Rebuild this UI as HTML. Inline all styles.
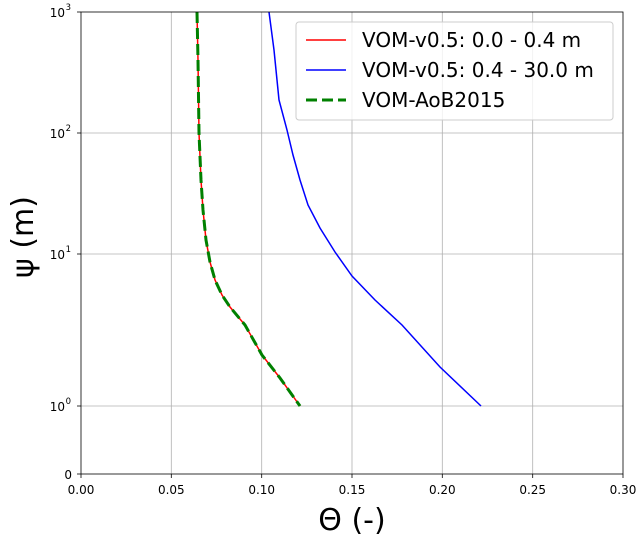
<!DOCTYPE html>
<html><head><style>body{margin:0;background:#fff}</style></head><body>
<svg width="642" height="540" xmlns="http://www.w3.org/2000/svg" font-family="DejaVu Sans, Liberation Sans, sans-serif">
<g stroke="#b0b0b0" stroke-width="0.8">
<line x1="171.3" y1="12" x2="171.3" y2="474"/><line x1="261.7" y1="12" x2="261.7" y2="474"/><line x1="352" y1="12" x2="352" y2="474"/><line x1="442.3" y1="12" x2="442.3" y2="474"/><line x1="532.7" y1="12" x2="532.7" y2="474"/>
<line x1="81" y1="133" x2="623" y2="133"/><line x1="81" y1="254" x2="623" y2="254"/><line x1="81" y1="406" x2="623" y2="406"/>
</g>
<polyline fill="none" stroke="#0000ff" stroke-width="1.5" points="269,12 274,50 279,100 287,130 293,155 300,180 308,205 320,228 335,252 352,276 375,300 402,325 440,367 481,406"/>
<polyline fill="none" stroke="#ff0000" stroke-width="1.5" points="197,12 198,60 199,133 201,180 203,210 206,240 210,262 215,280 222,295 230,307 245,325 262,355 280,378 300,406"/>
<polyline fill="none" stroke="#008000" stroke-width="3" stroke-dasharray="11,5" points="197,12 198,60 199,133 201,180 203,210 206,240 210,262 215,280 222,295 230,307 245,325 262,355 280,378 300,406"/>
<rect x="81" y="12" width="542" height="462" fill="none" stroke="#000" stroke-width="0.8"/>
<g stroke="#000" stroke-width="0.8">
<line x1="81" y1="474" x2="81" y2="478"/><line x1="171.3" y1="474" x2="171.3" y2="478"/><line x1="261.7" y1="474" x2="261.7" y2="478"/><line x1="352" y1="474" x2="352" y2="478"/><line x1="442.3" y1="474" x2="442.3" y2="478"/><line x1="532.7" y1="474" x2="532.7" y2="478"/><line x1="623" y1="474" x2="623" y2="478"/>
<line x1="77" y1="12" x2="81" y2="12"/><line x1="77" y1="133" x2="81" y2="133"/><line x1="77" y1="254" x2="81" y2="254"/><line x1="77" y1="406" x2="81" y2="406"/><line x1="77" y1="474" x2="81" y2="474"/>
</g>
<g font-size="12" text-anchor="middle">
<text x="81" y="494">0.00</text><text x="171.3" y="494">0.05</text><text x="261.7" y="494">0.10</text><text x="352" y="494">0.15</text><text x="442.3" y="494">0.20</text><text x="532.7" y="494">0.25</text><text x="623" y="494">0.30</text>
</g>
<g font-size="12" text-anchor="end">
<text x="65" y="17">10</text><text x="71" y="10" font-size="8.5">3</text>
<text x="65" y="138">10</text><text x="71" y="131" font-size="8.5">2</text>
<text x="65" y="259">10</text><text x="71" y="252" font-size="8.5">1</text>
<text x="65" y="411">10</text><text x="71" y="404" font-size="8.5">0</text>
<text x="72" y="479">0</text>
</g>
<text x="352" y="530" font-size="30" text-anchor="middle">Θ (-)</text>
<text transform="translate(33,237) rotate(-90)" font-size="30" text-anchor="middle">ψ (m)</text>
<rect x="296" y="22" width="317" height="98" rx="3" fill="#fff" fill-opacity="0.8" stroke="#ccc"/>
<line x1="306" y1="40" x2="346" y2="40" stroke="#ff0000" stroke-width="1.5"/>
<line x1="306" y1="70" x2="346" y2="70" stroke="#0000ff" stroke-width="1.5"/>
<line x1="306" y1="100" x2="346" y2="100" stroke="#008000" stroke-width="3" stroke-dasharray="11,5"/>
<g font-size="20"><text x="362" y="47">VOM-v0.5: 0.0 - 0.4 m</text><text x="362" y="77">VOM-v0.5: 0.4 - 30.0 m</text><text x="362" y="107">VOM-AoB2015</text></g>
</svg>
</body></html>
